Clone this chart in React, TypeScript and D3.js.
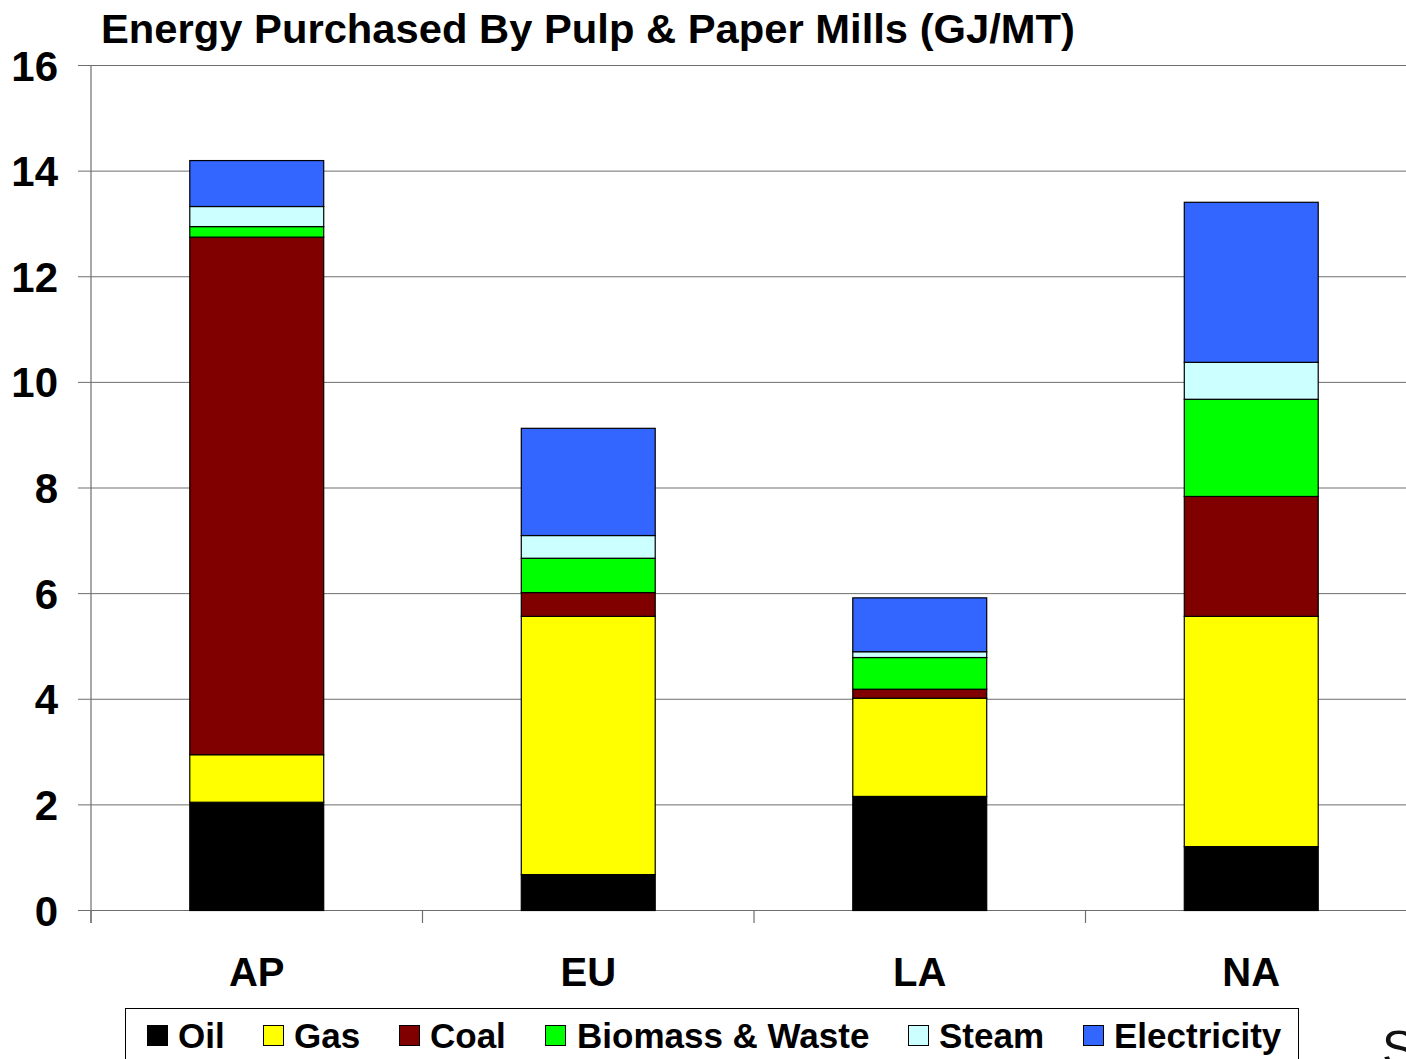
import React, { useEffect } from "react";
import * as d3 from "d3";

// Regions and energy sources (GJ per metric ton)
const regions = ["AP", "EU", "LA", "NA"];
const sources = ["Oil", "Gas", "Coal", "Biomass & Waste", "Steam", "Electricity"];
const oil = [2.05, 0.68, 2.16, 1.21];
const gas = [0.9, 4.89, 1.86, 4.36];
const coal = [9.8, 0.45, 0.17, 2.27];
const biomass = [0.2, 0.65, 0.6, 1.84];
const steam = [0.38, 0.43, 0.11, 0.7];
const electricity = [0.87, 2.03, 1.02, 3.03];
const yTicks = [0, 2, 4, 6, 8, 10, 12, 14, 16];

const colors: Record<string, string> = {
  Oil: "#000000",
  Gas: "#FFFF00",
  Coal: "#800000",
  "Biomass & Waste": "#00FF00",
  Steam: "#CCFFFF",
  Electricity: "#3366FF",
};

const seriesValues: Record<string, number[]> = {
  Oil: oil,
  Gas: gas,
  Coal: coal,
  "Biomass & Waste": biomass,
  Steam: steam,
  Electricity: electricity,
};

const W = 1406;
const H = 1059;
const margin = { left: 91, top: 65.5, bottom: 910.5 };
const plotRight = 91 + 4 * 331.5;
const FONT = "Liberation Sans, Arial, sans-serif";

export default function App() {
  useEffect(() => {
    document.body.style.margin = "0";
  }, []);

  const rows = regions.map((r, i) => {
    const o: Record<string, any> = { region: r };
    sources.forEach((s) => (o[s] = seriesValues[s][i]));
    return o;
  });
  const stacked = d3.stack<any>().keys(sources)(rows);

  const x = d3.scaleBand().domain(regions).range([margin.left, plotRight]).paddingInner(0).paddingOuter(0);
  const y = d3.scaleLinear().domain([0, 16]).range([margin.bottom, margin.top]);
  const band = x.bandwidth();
  const barW = band * 0.404;

  const legendItems = [
    { key: "Oil", sx: 147, tx: 178 },
    { key: "Gas", sx: 263, tx: 294 },
    { key: "Coal", sx: 399, tx: 430 },
    { key: "Biomass & Waste", sx: 545, tx: 577 },
    { key: "Steam", sx: 908, tx: 939 },
    { key: "Electricity", sx: 1083, tx: 1114 },
  ];

  return (
    <svg width={W} height={H} style={{ display: "block", background: "#fff" }} fontFamily={FONT}>
      <text x={101} y={43} fontSize={41} fontWeight="bold" fill="#000" textLength={974} lengthAdjust="spacingAndGlyphs">
        Energy Purchased By Pulp &amp; Paper Mills (GJ/MT)
      </text>

      {/* gridlines and y ticks */}
      {yTicks.map((t) => (
        <g key={t}>
          <line x1={margin.left} x2={plotRight} y1={y(t)} y2={y(t)} stroke="#6e6e6e" strokeWidth={1} />
          <line x1={78} x2={margin.left} y1={y(t)} y2={y(t)} stroke="#6e6e6e" strokeWidth={1} />
          <text x={58} y={y(t) + 15} fontSize={42} fontWeight="bold" textAnchor="end" fill="#000">
            {t}
          </text>
        </g>
      ))}

      {/* axis lines */}
      <line x1={margin.left} x2={margin.left} y1={margin.top} y2={923} stroke="#6e6e6e" strokeWidth={1.2} />
      {regions.map((r) => (
        <line key={r} x1={x(r)!} x2={x(r)!} y1={margin.bottom} y2={923} stroke="#6e6e6e" strokeWidth={1.2} />
      ))}

      {/* stacked bars */}
      {stacked.map((layer) => (
        <g key={layer.key} fill={colors[layer.key]}>
          {layer.map((d, i) => {
            const cx = x(regions[i])! + band / 2;
            return (
              <rect
                key={i}
                x={cx - barW / 2}
                y={y(d[1])}
                width={barW}
                height={y(d[0]) - y(d[1])}
                stroke="#000"
                strokeWidth={1.2}
              />
            );
          })}
        </g>
      ))}

      {/* category labels */}
      {regions.map((r) => (
        <text key={r} x={x(r)! + band / 2} y={986} fontSize={40} fontWeight="bold" textAnchor="middle" fill="#000">
          {r}
        </text>
      ))}

      {/* legend */}
      <rect x={125.5} y={1008.5} width={1173} height={80} fill="#fff" stroke="#000" strokeWidth={1} />
      {legendItems.map((it) => (
        <g key={it.key}>
          <rect x={it.sx + 0.5} y={1025.5} width={20} height={20} fill={colors[it.key]} stroke="#000" strokeWidth={1} />
          <text x={it.tx} y={1048} fontSize={35} fontWeight="bold" fill="#000">
            {it.key}
          </text>
        </g>
      ))}

      <text x={1382} y={1066} fontSize={50} fill="#111">
        S
      </text>
    </svg>
  );
}
